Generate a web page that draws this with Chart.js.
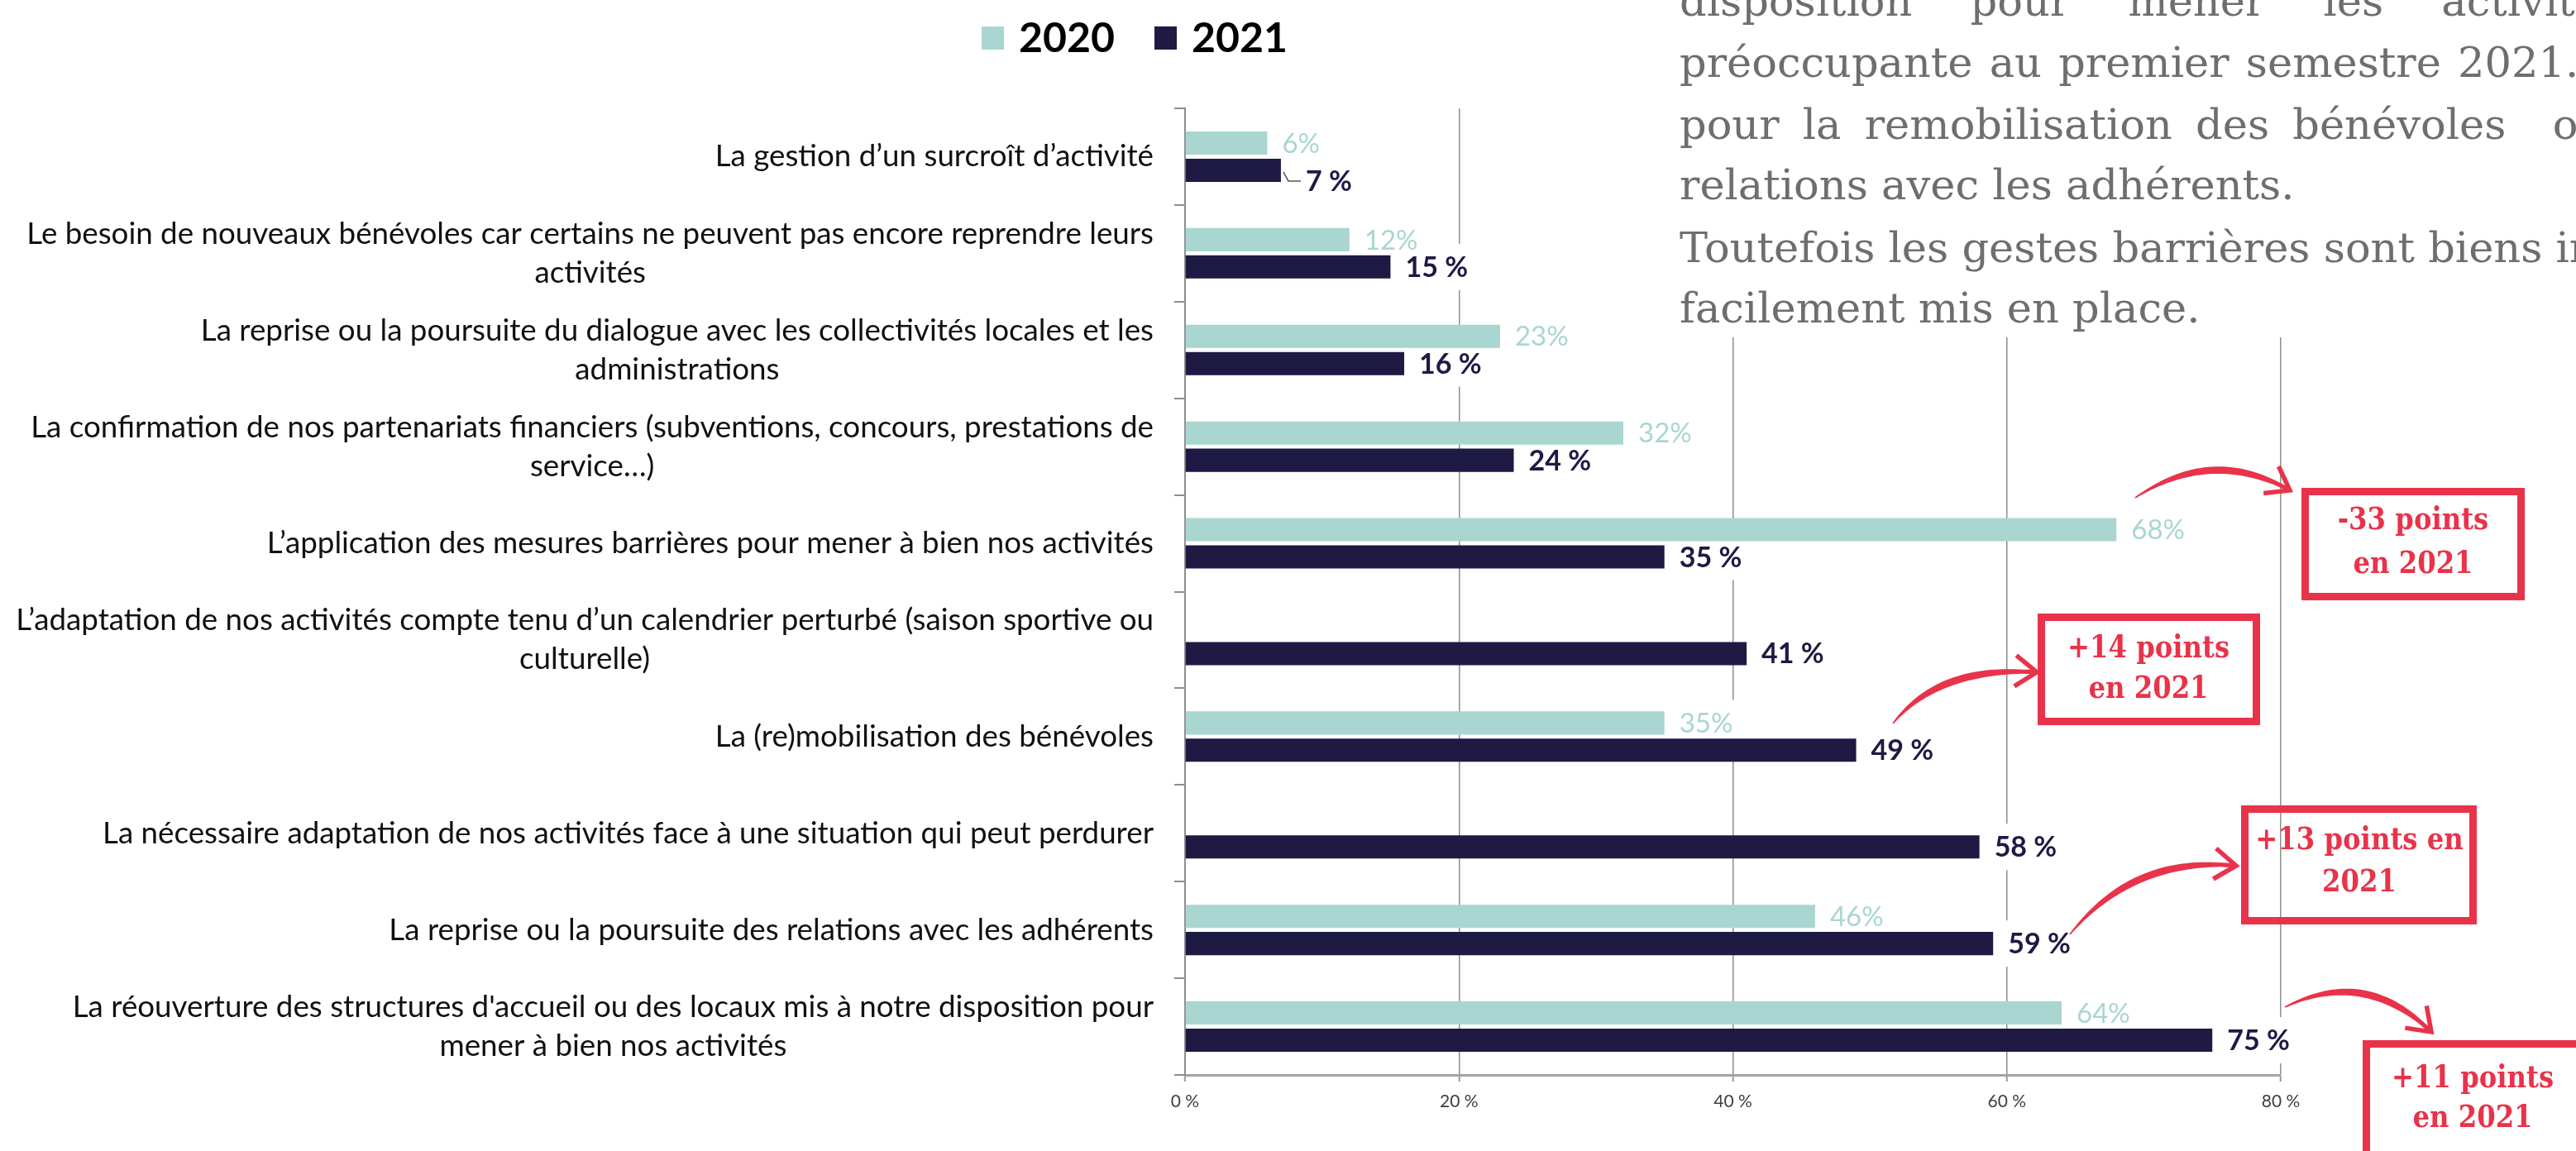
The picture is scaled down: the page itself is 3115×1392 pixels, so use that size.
<!DOCTYPE html>
<html lang="fr">
<head>
<meta charset="utf-8">
<title>Préoccupations 2020 / 2021</title>
<script src="https://cdn.jsdelivr.net/npm/chart.js@4.4.1/dist/chart.umd.min.js"></script>
<style>
  html, body { margin: 0; padding: 0; background: #ffffff; overflow: hidden; }
  #wrap { position: relative; width: 3115px; height: 1392px; overflow: hidden; }
  #chart { position: absolute; left: 0; top: 0; }
  #para { position: absolute; left: 2005px; top: 0; width: 1110px; height: 408px; background: #ffffff;
          overflow: hidden; font-family: "DejaVu Serif", serif; font-size: 51px; color: #6e6e6e; }
  #para div { position: absolute; left: 26px; white-space: pre; line-height: 51px; height: 51px; }
</style>
</head>
<body>
<div id="wrap">
  <canvas id="chart" width="3115" height="1392"></canvas>
  <div id="para"></div>
</div>
<script>
// ---------------- data ----------------
const categories = [
  'La gestion d’un surcroît d’activité',
  ['Le besoin de nouveaux bénévoles car certains ne peuvent pas encore reprendre leurs', 'activités'],
  ['La reprise ou la poursuite du dialogue avec les collectivités locales et les', 'administrations'],
  ['La confirmation de nos partenariats financiers (subventions, concours, prestations de', 'service…)'],
  'L’application des mesures barrières pour mener à bien nos activités',
  ['L’adaptation de nos activités compte tenu d’un calendrier perturbé (saison sportive ou', 'culturelle)'],
  'La (re)mobilisation des bénévoles',
  'La nécessaire adaptation de nos activités face à une situation qui peut perdurer',
  'La reprise ou la poursuite des relations avec les adhérents',
  ['La réouverture des structures d\'accueil ou des locaux mis à notre disposition pour', 'mener à bien nos activités']
];
const seriesNames = ['2020', '2021'];
const values2020 = [6, 12, 23, 32, 68, null, 35, null, 46, 64];
const values2021 = [7, 15, 16, 24, 35, 41, 49, 58, 59, 75];
const xTickValues = [0, 20, 40, 60, 80];
const xTickLabels = ['0 %', '20 %', '40 %', '60 %', '80 %'];
const calloutTexts = [
  ['-33 points', 'en 2021'],
  ['+14 points', 'en 2021'],
  ['+13 points en', '2021'],
  ['+11 points', 'en 2021']
];
const paragraphLines = [
  'disposition pour mener les activités',
  'préoccupante au premier semestre 2021.',
  'pour la remobilisation des bénévoles  ou',
  'relations avec les adhérents.',
  'Toutefois les gestes barrières sont biens intégrés',
  'facilement mis en place.'
];

// ---------------- styles / layout ----------------
const COLOR_2020 = '#a9d6d0';
const COLOR_2021 = '#1e1a44';
const RED = '#e8334a';
const GRID = '#8e8e8e';
const paraBaselines = [19, 93, 168, 241, 317, 390];
const paraWordSpacing = [54, 4, 12, 0, 0, 0];
const calloutLayout = [
  { box: [2783, 590, 3053, 726], cx: 2918, ly: [630, 683], arrow: { from: [2582, 602], ctrl: [2675, 540], to: [2769, 593] } },
  { box: [2464, 742, 2733, 877], cx: 2598, ly: [785, 834], arrow: { from: [2289, 875], ctrl: [2345, 805], to: [2463, 813] } },
  { box: [2710, 974, 2995, 1118], cx: 2853, ly: [1017, 1068], arrow: { from: [2503, 1130], ctrl: [2580, 1035], to: [2704, 1047] } },
  { box: [2857, 1258, 3140, 1420], cx: 2990, ly: [1305, 1353], arrow: { from: [2763, 1218], ctrl: [2860, 1170], to: [2940, 1248] } }
];
// special label placement (leader line) for 2021 first value
const labelOffsets = { '1-0': { dx: 12, dy: 13, leader: true } };

// ---------------- paragraph overlay (page text) ----------------
const para = document.getElementById('para');
paragraphLines.forEach((t, i) => {
  const d = document.createElement('div');
  d.textContent = t;
  d.style.top = (paraBaselines[i] - 43) + 'px';
  d.style.wordSpacing = paraWordSpacing[i] + 'px';
  para.appendChild(d);
});

// ---------------- plugin ----------------
function labelFor(di, v) { return di === 0 ? v + '%' : v + ' %'; }
function labelFont(di) { return di === 0 ? 'normal 33px Lato' : 'bold 34px Lato'; }

function taperedArrow(ctx, a) {
  // draw the curve as a filled shape that thickens towards the head
  const N = 40, pts = [];
  for (let k = 0; k <= N; k++) {
    const t = k / N, u = 1 - t;
    const x = u * u * a.from[0] + 2 * u * t * a.ctrl[0] + t * t * a.to[0];
    const y = u * u * a.from[1] + 2 * u * t * a.ctrl[1] + t * t * a.to[1];
    const dx = 2 * u * (a.ctrl[0] - a.from[0]) + 2 * t * (a.to[0] - a.ctrl[0]);
    const dy = 2 * u * (a.ctrl[1] - a.from[1]) + 2 * t * (a.to[1] - a.ctrl[1]);
    const len = Math.hypot(dx, dy) || 1;
    const w = 0.8 + 3.6 * Math.sin(Math.PI * Math.min(t, 0.92) / 1.1);
    pts.push({ x, y, nx: -dy / len, ny: dx / len, w });
  }
  ctx.beginPath();
  pts.forEach((p, k) => { const X = p.x + p.nx * p.w, Y = p.y + p.ny * p.w; k ? ctx.lineTo(X, Y) : ctx.moveTo(X, Y); });
  for (let k = pts.length - 1; k >= 0; k--) { const p = pts[k]; ctx.lineTo(p.x - p.nx * p.w, p.y - p.ny * p.w); }
  ctx.closePath();
  ctx.fill();
  const ang = Math.atan2(a.to[1] - a.ctrl[1], a.to[0] - a.ctrl[0]);
  const L = 32, spread = 0.62;
  ctx.lineWidth = 5.5;
  ctx.lineJoin = 'miter';
  ctx.lineCap = 'butt';
  ctx.beginPath();
  ctx.moveTo(a.to[0] - L * Math.cos(ang - spread), a.to[1] - L * Math.sin(ang - spread));
  ctx.lineTo(a.to[0], a.to[1]);
  ctx.lineTo(a.to[0] - L * Math.cos(ang + spread), a.to[1] - L * Math.sin(ang + spread));
  ctx.stroke();
}

const decor = {
  id: 'decor',
  beforeDatasetsDraw(chart) {
    const ctx = chart.ctx;
    ctx.save();
    ctx.fillStyle = '#ffffff';
    chart.data.datasets.forEach((ds, di) => {
      chart.getDatasetMeta(di).data.forEach((bar, i) => {
        const v = ds.data[i];
        if (v === null || v === undefined) return;
        const off = labelOffsets[di + '-' + i] || { dx: 0, dy: 0 };
        ctx.font = labelFont(di);
        const w = ctx.measureText(labelFor(di, v)).width;
        const x = bar.x + 18 + off.dx, y = bar.y + off.dy;
        ctx.fillRect(x - 4, y - 28, w + 8, 56);
      });
    });
    ctx.restore();
  },
  afterDatasetsDraw(chart) {
    const ctx = chart.ctx;
    ctx.save();
    ctx.textBaseline = 'middle';
    ctx.textAlign = 'left';
    chart.data.datasets.forEach((ds, di) => {
      chart.getDatasetMeta(di).data.forEach((bar, i) => {
        const v = ds.data[i];
        if (v === null || v === undefined) return;
        const off = labelOffsets[di + '-' + i] || { dx: 0, dy: 0 };
        const x = bar.x + 18 + off.dx, y = bar.y + off.dy;
        if (off.leader) {
          ctx.strokeStyle = '#555555';
          ctx.lineWidth = 1.5;
          ctx.beginPath();
          ctx.moveTo(bar.x + 3, bar.y + 2);
          ctx.lineTo(bar.x + 9, bar.y + off.dy);
          ctx.lineTo(bar.x + 24, bar.y + off.dy);
          ctx.stroke();
        }
        ctx.font = labelFont(di);
        ctx.fillStyle = di === 0 ? COLOR_2020 : COLOR_2021;
        ctx.fillText(labelFor(di, v), x, y + 1);
      });
    });
    ctx.restore();
  },
  afterDraw(chart) {
    const ctx = chart.ctx;
    const ys = chart.scales.y;
    const area = chart.chartArea;
    ctx.save();

    // ---- category labels (right-aligned block, lines centred like the source) ----
    ctx.font = '100px Lato';
    const ref = ctx.measureText(categories[1][0]).width;
    const size = 100 * 1363 / ref;
    ctx.font = size.toFixed(2) + 'px Lato';
    ctx.fillStyle = '#111111';
    ctx.textAlign = 'center';
    ctx.textBaseline = 'middle';
    const rightEdge = area.left - 38;
    categories.forEach((c, i) => {
      const lines = Array.isArray(c) ? c : [c];
      const y = ys.getPixelForValue(i);
      const bw = Math.max(...lines.map(l => ctx.measureText(l).width));
      const cx = rightEdge - bw / 2;
      lines.forEach((l, k) => {
        ctx.fillText(l, cx, y + (k - (lines.length - 1) / 2) * 47);
      });
    });

    // ---- legend ----
    const legendItems = [
      { x: 1187, color: COLOR_2020, text: chart.data.datasets[0].label },
      { x: 1396, color: COLOR_2021, text: chart.data.datasets[1].label }
    ];
    ctx.textAlign = 'left';
    ctx.textBaseline = 'alphabetic';
    ctx.font = 'bold 50px Lato';
    legendItems.forEach(it => {
      ctx.fillStyle = it.color;
      ctx.fillRect(it.x, 32, 27, 28);
      ctx.fillStyle = '#000000';
      ctx.fillText(it.text, it.x + 45, 63);
    });

    // ---- callouts ----
    ctx.strokeStyle = RED;
    ctx.fillStyle = RED;
    calloutLayout.forEach((c, i) => {
      const [x0, y0, x1, y1] = c.box;
      ctx.lineWidth = 9;
      ctx.lineJoin = 'miter';
      ctx.strokeRect(x0 + 4.5, y0 + 4.5, x1 - x0 - 9, y1 - y0 - 9);
      ctx.font = 'bold 38px "DejaVu Serif"';
      ctx.textAlign = 'center';
      ctx.textBaseline = 'middle';
      calloutTexts[i].forEach((t, k) => {
        ctx.save();
        ctx.translate(c.cx, c.ly[k]);
        ctx.scale(0.85, 1);
        ctx.fillText(t, 0, 0);
        ctx.restore();
      });
      taperedArrow(ctx, c.arrow);
    });
    ctx.restore();
  }
};

// ---------------- chart ----------------
new Chart(document.getElementById('chart'), {
  type: 'bar',
  data: {
    labels: categories,
    datasets: [
      { label: seriesNames[0], data: values2020, backgroundColor: COLOR_2020, borderWidth: 0,
        categoryPercentage: 0.564, barPercentage: 0.85 },
      { label: seriesNames[1], data: values2021, backgroundColor: COLOR_2021, borderWidth: 0,
        categoryPercentage: 0.564, barPercentage: 0.85 }
    ]
  },
  options: {
    indexAxis: 'y',
    responsive: false,
    animation: false,
    devicePixelRatio: 1,
    layout: { padding: { top: 131, right: 357, bottom: 0, left: 0 } },
    plugins: { legend: { display: false }, tooltip: { enabled: false }, title: { display: false } },
    scales: {
      x: {
        type: 'linear', position: 'bottom', min: 0, max: 80,
        afterBuildTicks(s) { s.ticks = xTickValues.map(v => ({ value: v })); },
        ticks: {
          callback: (v) => xTickLabels[xTickValues.indexOf(v)],
          font: { family: 'Lato', size: 21 }, color: '#3f3f3f', padding: 12, maxRotation: 0
        },
        grid: { color: GRID, lineWidth: 1.5, drawTicks: true, tickLength: 8, tickColor: '#9a9a9a', tickWidth: 2 },
        border: { display: true, color: '#a3a3a3', width: 3 },
        afterFit(s) { s.height = 92; s.paddingLeft = 0; s.paddingRight = 0; }
      },
      y: {
        type: 'category', position: 'left',
        ticks: { display: false },
        grid: { drawOnChartArea: false, drawTicks: true, tickLength: 13, color: GRID, lineWidth: 2, offset: true },
        border: { display: true, color: GRID, width: 2 },
        afterFit(s) { s.width = 1433; s.paddingTop = 0; s.paddingBottom = 0; }
      }
    }
  },
  plugins: [decor]
});
</script>
</body>
</html>
